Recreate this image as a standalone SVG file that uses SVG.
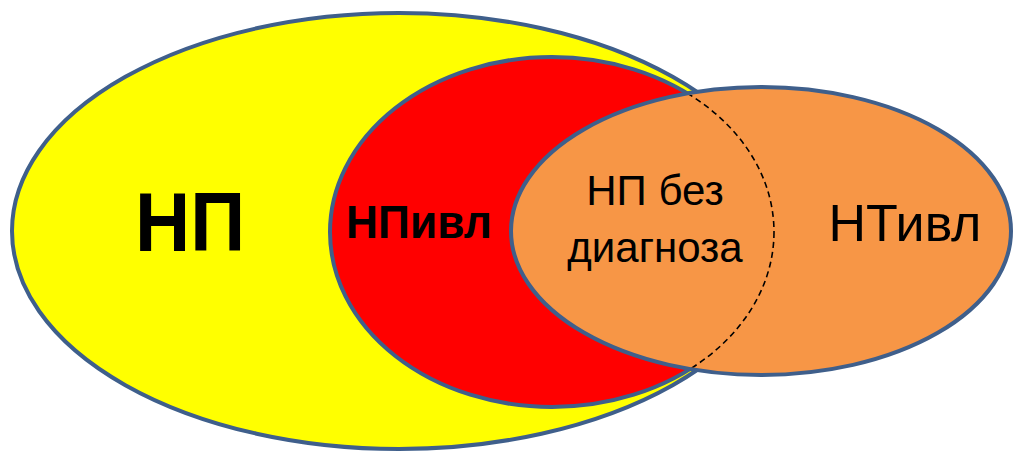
<svg xmlns="http://www.w3.org/2000/svg" width="1016" height="452" viewBox="0 0 1016 452">
<style>
.set{stroke:#3F5F8B;stroke-width:4}
.lbl{font-family:"Liberation Sans",Arial,sans-serif;fill:#000;text-anchor:middle}
.b{font-weight:bold}
</style>
<defs>
<clipPath id="orangeClip"><ellipse cx="761" cy="231" rx="248" ry="142"/></clipPath>
</defs>
<rect width="1016" height="452" fill="#fff"/>
<g id="np">
<ellipse class="set" cx="399" cy="231" rx="387" ry="218" fill="#FFFF00"/>
<text class="lbl b" x="190" y="251" font-size="84" textLength="110" lengthAdjust="spacingAndGlyphs">НП</text>
</g>
<g id="npivl">
<ellipse class="set" cx="552" cy="232" rx="222" ry="175" fill="#FF0000"/>
<text class="lbl b" x="419" y="238" font-size="46" textLength="146" lengthAdjust="spacingAndGlyphs">НПивл</text>
</g>
<g id="ntivl">
<ellipse class="set" cx="761" cy="231" rx="250" ry="144" fill="#F79646"/>
<text class="lbl" x="905" y="241" font-size="52">НТивл</text>
</g>
<g id="connectors">
<ellipse cx="552" cy="232" rx="222" ry="175" fill="none" stroke="#000" stroke-width="1.6" stroke-dasharray="6 4" clip-path="url(#orangeClip)"/>
</g>
<g id="np-bez-diagnoza">
<text class="lbl" x="655" y="205" font-size="42">НП без</text>
<text class="lbl" x="655" y="262" font-size="42">диагноза</text>
</g>
</svg>
